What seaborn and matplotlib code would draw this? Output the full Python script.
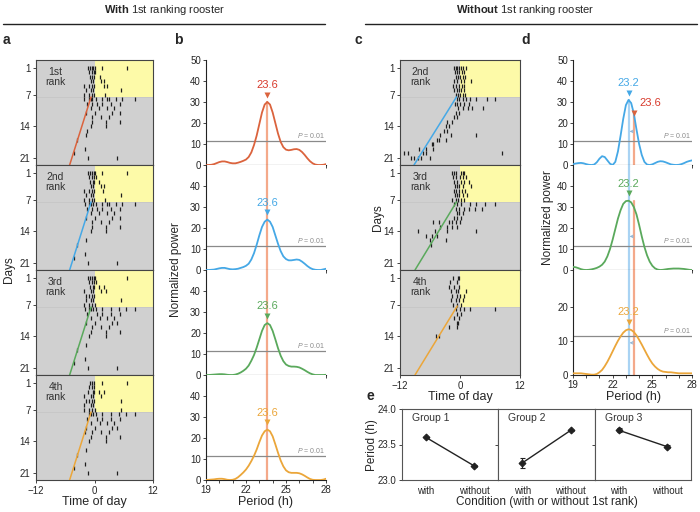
import numpy as np
import pandas as pd
import matplotlib
matplotlib.use("Agg")
import matplotlib.pyplot as plt
import seaborn as sns

sns.set_style("white")
plt.rcParams['font.family'] = ['Liberation Sans', 'DejaVu Sans']
plt.rcParams['mathtext.fontset'] = 'custom'
plt.rcParams['mathtext.it'] = 'Liberation Sans:italic'
plt.rcParams['mathtext.rm'] = 'Liberation Sans'
plt.rcParams['mathtext.bf'] = 'Liberation Sans:bold'

# ---------------- data ----------------
# actogram activity bouts: (day, time of day)
act_a1 = [(1,-1.4),(1,-1.0),(1,-0.6),(1,-0.3),(1,0.1),(1,1.6),(1,6.6),
          (2,-1.2),(2,-0.6),(2,-0.1),(2,0.2),
          (3,-0.9),(3,-0.5),(3,-0.1),(3,1.2),
          (4,-0.8),(4,-0.4),(4,1.4),(4,1.9),
          (5,-2.2),(5,-1.2),(5,-0.6),(5,-0.1),(5,1.9),(5,2.6),
          (6,-1.8),(6,-0.8),(6,-0.3),(6,5.4),
          (7,-2.2),(7,-1.1),(7,-0.5),(7,-0.1),(7,2.2),
          (8,-2.2),(8,-1.2),(8,-0.8),(8,-0.5),(8,0.4),(8,1.6),(8,2.6),(8,2.9),(8,4.5),(8,5.6),(8,8.3),
          (9,-1.5),(9,-0.6),(9,0.5),(9,1.6),(9,3.3),(9,5.3),
          (10,-0.8),(10,0.9),(10,2.6),(10,3.9),
          (11,-1.8),(11,0.2),(11,3.6),(11,5.3),
          (12,-0.5),(12,1.4),(12,2.9),
          (13,-0.6),(13,2.4),(13,5.3),
          (14,-0.8),(14,2.4),
          (15,-1.5),(16,-1.7),(17,-3.5),(19,-2.0),(20,-4.3),(21,-1.4),(21,4.6)]
act_a2 = [(1,-1.4),(1,-1.0),(1,-0.6),(1,-0.2),(1,0.1),(1,1.6),(1,6.6),
          (2,-1.2),(2,-0.6),(2,-0.1),(2,0.3),
          (3,-0.9),(3,-0.4),(3,-0.1),(3,1.0),
          (4,-0.8),(4,-0.3),(4,1.4),(4,1.9),
          (5,-2.2),(5,-1.2),(5,-0.6),(5,-0.1),(5,1.8),
          (6,-1.8),(6,-0.8),(6,-0.3),(6,5.4),
          (7,-2.2),(7,-1.1),(7,-0.5),(7,-0.1),(7,2.2),
          (8,-2.0),(8,-1.2),(8,-0.8),(8,-0.4),(8,0.4),(8,1.6),(8,2.6),(8,3.0),(8,4.5),(8,5.6),(8,8.3),
          (9,-1.5),(9,-0.6),(9,0.6),(9,1.6),(9,3.3),(9,5.3),
          (10,-0.8),(10,0.9),(10,2.6),(10,3.9),
          (11,-1.8),(11,0.2),(11,3.6),(11,5.3),
          (12,-0.5),(12,1.4),(12,2.9),
          (13,-0.6),(13,2.4),(13,5.3),
          (14,-0.8),(14,2.4),
          (16,-1.7),(17,-3.5),(19,-2.0),(20,-4.3),(21,-1.4),(21,4.6)]
act_a3 = [(1,-1.4),(1,-1.0),(1,-0.6),(1,-0.2),(1,0.1),(1,6.6),
          (2,-1.2),(2,-0.6),(2,-0.1),(2,0.3),
          (3,-0.9),(3,-0.4),(3,-0.1),(3,1.0),(3,2.0),
          (4,-2.2),(4,-0.8),(4,-0.3),(4,1.4),(4,2.4),
          (5,-1.8),(5,-1.2),(5,-0.6),(5,-0.1),
          (6,-1.8),(6,-0.8),(6,-0.3),(6,5.4),
          (7,-2.2),(7,-1.1),(7,-0.5),(7,0.1),
          (8,-2.0),(8,-1.2),(8,-0.8),(8,-0.4),(8,0.4),(8,1.6),(8,3.3),(8,5.0),(8,6.4),(8,8.3),
          (9,-1.5),(9,0.6),(9,1.6),(9,3.3),(9,5.3),
          (10,-0.8),(10,1.2),(10,2.6),(10,3.9),
          (11,-1.8),(11,0.2),(11,3.6),(11,4.6),
          (12,-0.5),(12,1.4),(12,2.9),
          (13,-0.8),(13,2.4),(13,5.3),
          (14,-1.2),(14,2.4),
          (16,-1.7),(17,-3.5),(19,-2.0),(20,-4.3),(21,-1.4),(21,4.6)]
act_a4 = [(1,-1.0),(1,-0.6),(1,-0.2),(1,1.6),(1,6.6),
          (2,-1.2),(2,-0.6),(2,-0.1),
          (3,-1.4),(3,-0.4),(3,-0.1),(3,1.0),(3,2.0),
          (4,-2.2),(4,-0.8),(4,-0.3),(4,1.4),
          (5,-1.8),(5,-1.2),(5,-0.6),(5,-0.1),(5,5.4),
          (6,-2.2),(6,-0.8),(6,-0.3),
          (7,-2.2),(7,-1.1),(7,-0.5),(7,0.1),(7,5.4),
          (8,-1.2),(8,-0.8),(8,-0.4),(8,0.4),(8,1.6),(8,3.3),(8,5.0),(8,6.4),(8,8.3),
          (9,-1.5),(9,0.6),(9,1.6),(9,3.3),(9,5.3),
          (10,-0.8),(10,1.2),(10,2.6),(10,3.9),
          (11,-1.8),(11,0.2),(11,3.6),(11,4.6),
          (12,-2.0),(12,-0.5),(12,1.4),(12,2.9),
          (13,-0.8),(13,2.4),(13,5.3),
          (14,-1.2),(14,2.4),
          (16,-1.7),(17,-3.5),(19,-2.0),(20,-4.3),(21,-1.4),(21,4.6)]
act_c1 = [(1,-1.2),(1,-0.9),(1,-0.6),(1,-0.2),(1,0.1),(1,0.5),(1,1.2),
          (2,-1.1),(2,-0.7),(2,-0.2),(2,0.3),(2,0.8),
          (3,-0.9),(3,-0.4),(3,0.0),(3,0.5),(3,1.0),
          (4,-1.2),(4,-0.6),(4,0.1),(4,0.8),(4,2.2),
          (5,-1.4),(5,-0.9),(5,-0.2),(5,0.3),(5,0.7),
          (6,-1.2),(6,-0.7),(6,-0.2),(6,0.1),(6,0.8),
          (7,-0.9),(7,-0.4),(7,0.0),(7,0.5),(7,1.0),
          (8,-0.7),(8,-0.2),(8,0.5),(8,1.2),(8,1.9),(8,3.2),(8,5.3),(8,6.9),
          (9,-1.1),(9,-0.6),(9,0.0),(9,0.8),(9,1.7),
          (10,-0.4),(10,0.5),(10,1.5),(10,2.3),(10,4.6),
          (11,-0.9),(11,-0.2),(12,-1.2),(12,-0.6),(13,-2.6),(13,-1.6),
          (14,-2.8),(14,-2.3),(15,-3.3),(15,-2.6),(16,-4.0),(16,-1.9),(16,3.2),
          (17,-4.6),(17,-4.3),(17,-2.8),(18,-5.7),(18,-5.4),
          (19,-8.2),(19,-6.8),(19,-5.4),
          (20,-11.2),(20,-10.4),(20,-7.4),(20,-6.8),(20,8.4),
          (21,-9.8),(21,-9.2),(21,-8.5),(21,-7.9),(21,-6.1)]
act_c2 = [(1,-1.6),(1,-1.2),(1,-0.9),(1,0.1),(1,0.5),(1,0.8),
          (2,-1.4),(2,-0.9),(2,0.0),(2,0.5),(2,1.2),
          (3,-1.2),(3,-0.7),(3,0.1),(3,0.8),(3,1.7),
          (4,-1.1),(4,-0.6),(4,-0.2),(4,0.5),(4,2.2),
          (5,-1.2),(5,-0.9),(5,-0.2),(5,0.3),(5,1.0),
          (6,-1.1),(6,-0.7),(6,-0.2),(6,0.5),(6,1.4),
          (7,-1.6),(7,-0.9),(7,-0.4),(7,0.1),(7,0.8),
          (8,-1.2),(8,-0.6),(8,0.1),(8,1.9),(8,3.2),(8,5.0),(8,7.0),
          (9,-0.9),(9,-0.2),(9,0.8),(9,1.7),(9,2.9),(9,4.4),
          (10,-0.7),(10,-0.2),(10,0.5),
          (11,-1.2),(11,-0.6),(11,0.1),
          (12,-5.4),(12,-4.3),(12,-2.3),(12,-1.6),(12,-0.9),(12,0.0),
          (13,-4.0),(13,-2.6),(13,-1.6),(13,-0.6),
          (14,-8.5),(14,-5.0),(14,-2.6),(14,3.2),
          (15,-6.8),(15,-5.7),(15,-4.6),(16,-6.1),(16,-2.8),(17,-5.9)]
act_c3 = [(1,-1.4),(1,-0.4),(1,-0.2),
          (2,-2.1),(2,-0.6),
          (3,-2.3),(3,-1.2),(3,-0.2),
          (4,-1.8),(4,-0.9),(4,-0.4),(4,1.2),
          (5,-1.6),(5,-0.7),(5,0.0),(5,0.8),
          (6,-1.8),(6,-0.9),(6,-0.2),(6,0.5),
          (7,-1.4),(7,-0.6),(7,0.1),
          (8,-0.9),(8,0.0),(8,0.8),(8,1.9),(8,7.0),
          (9,-0.7),(9,0.1),(10,-1.2),(10,-0.2),(11,-0.6),(11,-0.4),
          (12,-2.3),(12,-0.6),(14,-4.8),(14,-4.3)]

# free-running regression lines: (day_start, time_start, day_end, time_end)
fit_a = [(7.5, -0.7, 22.6, -5.1)] * 4
fit_c = [(7.5, -0.7, 22.6, -9.2), (7.5, -0.7, 22.6, -9.0), (7.3, -0.55, 22.6, -9.0)]

ranks_a = ["1st\nrank", "2nd\nrank", "3rd\nrank", "4th\nrank"]
ranks_c = ["2nd\nrank", "3rd\nrank", "4th\nrank"]

period = [19.0,19.2,19.4,19.6,19.8,20.0,20.2,20.4,20.6,20.8,21.0,21.2,21.4,21.6,21.8,22.0,
          22.2,22.4,22.6,22.8,23.0,23.2,23.4,23.6,23.8,24.0,24.2,24.4,24.6,24.8,25.0,25.2,
          25.4,25.6,25.8,26.0,26.2,26.4,26.6,26.8,27.0,27.2,27.4,27.6,27.8,28.0]
pow_b1 = [0.0,0.0,0.1,0.4,0.9,1.4,1.7,1.7,1.4,1.0,0.8,0.8,1.1,1.5,2.0,2.6,3.8,6.0,9.5,14.0,
          19.5,25.0,28.8,30.0,28.8,25.0,20.0,15.0,11.0,8.5,7.3,7.0,7.2,7.5,7.6,7.2,6.2,4.8,
          3.2,1.8,0.8,0.2,0.0,0.0,0.1,0.4]
pow_b2 = [0.0,0.0,0.1,0.2,0.5,0.8,1.0,1.0,0.7,0.4,0.3,0.4,0.6,1.0,1.4,2.0,3.0,5.0,8.0,12.0,
          16.5,20.5,23.0,24.0,23.0,20.5,16.5,12.5,9.0,6.5,5.2,4.6,4.6,4.8,5.0,4.8,4.0,3.0,
          1.9,1.0,0.4,0.1,0.0,0.0,0.3,0.6]
pow_b3 = [0.0,0.0,0.1,0.2,0.3,0.4,0.4,0.3,0.1,0.0,0.0,0.2,0.6,1.2,2.0,3.0,4.5,6.8,9.5,13.0,
          17.0,21.0,23.8,24.7,23.8,21.0,17.0,12.8,9.2,6.6,5.0,4.3,4.0,4.0,3.9,3.6,3.0,2.3,
          1.5,0.8,0.3,0.0,0.0,0.0,0.0,0.1]
pow_b4 = [0.0,0.1,0.2,0.3,0.5,0.6,0.6,0.4,0.1,0.0,0.1,0.5,1.3,2.4,3.6,5.0,6.8,9.0,11.5,14.5,
          18.0,21.2,23.2,24.0,23.2,20.8,17.0,13.0,9.3,6.5,4.6,3.7,3.4,3.4,3.4,3.2,2.7,2.0,
          1.2,0.5,0.1,0.0,0.0,0.0,0.2,0.6]
pow_d1 = [0.4,0.7,0.9,1.0,0.8,0.4,0.1,0.0,0.2,1.3,3.0,4.2,3.8,2.2,0.6,0.0,1.5,6.5,14.0,22.0,
          28.5,31.0,29.5,24.5,17.0,10.0,4.8,1.5,0.2,0.0,0.3,0.9,1.5,1.8,1.7,1.3,0.8,0.3,
          0.1,0.0,0.1,0.4,0.9,1.5,1.9,2.2]
pow_d2 = [1.5,1.3,0.9,0.4,0.1,0.0,0.1,0.3,0.6,1.0,1.6,2.5,4.0,6.5,10.0,14.5,19.5,24.5,28.5,
          31.5,32.8,33.0,32.2,30.0,26.5,21.5,16.0,11.0,7.0,4.0,2.0,0.8,0.2,0.0,0.1,0.3,0.5,
          0.6,0.7,0.7,0.7,0.6,0.5,0.3,0.1,0.0]
pow_d3 = [0.5,0.5,0.5,0.5,0.4,0.3,0.2,0.1,0.1,0.3,0.8,1.5,2.6,3.9,5.4,7.0,8.6,10.1,11.4,12.5,
          13.2,13.5,13.3,12.7,11.7,10.4,9.0,7.5,6.0,4.6,3.4,2.5,1.8,1.3,1.0,0.9,0.8,0.8,0.7,
          0.6,0.5,0.5,0.5,0.5,0.5,0.5]
p_threshold = 11.5
peak_with = 23.6
peak_without = 23.2

conditions = ["with", "without"]
groups = ["Group 1", "Group 2", "Group 3"]
group_means = [[23.60, 23.20], [23.24, 23.70], [23.70, 23.47]]
group_errs = [[0.01, 0.01], [0.07, 0.01], [0.03, 0.02]]

# ---------------- styling ----------------
RED, BLUE, GREEN, ORANGE = "#db633d", "#45a8e6", "#5aa95c", "#eba63a"
RED_TXT = "#d83a2c"
SALMON, LBLUE = "#f4a98a", "#a9d3f3"
GRAYBG, YELLOW = "#d0d0d0", "#fdfaa8"
colors_a = [RED, BLUE, GREEN, ORANGE]
colors_c = [BLUE, GREEN, ORANGE]

W, H = 700, 512
fig = plt.figure(figsize=(W/100, H/100), dpi=100)

def add_ax(x0, y0, x1, y1):
    return fig.add_axes([x0/W, 1 - y1/H, (x1-x0)/W, (y1-y0)/H])

TICKFS = 7
rows = [(60,165),(165,270),(270,375),(375,480)]

def actogram(ax, acts, fit, color, label, bottom):
    ax.set_facecolor(GRAYBG)
    ax.set_xlim(-12, 12)
    ax.set_ylim(22.6, -0.7)
    ax.fill_between([0, 12], -0.7, 7.5, color=YELLOW, lw=0, zorder=0)
    ax.axhline(7.5, color="#c4c4c4", lw=0.5, zorder=0.5)
    days = np.array([a[0] for a in acts]); times = np.array([a[1] for a in acts])
    ax.vlines(times, days-0.42, days+0.42, color="#1e1e1e", lw=0.9, zorder=2)
    ax.plot([fit[1], fit[3]], [fit[0], fit[2]], color=color, lw=1.1, zorder=3)
    ax.text(-8.0, 3.0, label, ha="center", va="center", fontsize=7.5, color="#333333",
            linespacing=1.0)
    ax.set_yticks([1, 7, 14, 21])
    ax.tick_params(axis="y", labelsize=TICKFS, length=2.5, width=0.6, pad=1.5, left=True)
    if bottom:
        ax.set_xticks([-12, 0, 12])
        ax.tick_params(axis="x", labelsize=TICKFS, length=2.5, width=0.6, pad=1.5, bottom=True)
    else:
        ax.set_xticks([])
    for s in ax.spines.values():
        s.set_color("#444444"); s.set_linewidth(0.8)

def periodogram(ax, pw, color, top, bottom, ymax=50, yt=None, peak=23.6, lbl="23.6"):
    df = pd.DataFrame({"period": period, "power": pw})
    sns.lineplot(data=df, x="period", y="power", ax=ax, color=color, lw=1.3, zorder=4)
    ax.set_xlim(19, 28); ax.set_ylim(0, ymax)
    ax.axhline(p_threshold, color="#8a8a8a", lw=0.9, zorder=2)
    ax.text(27.95, p_threshold + ymax*0.012, "$P$ = 0.01", ha="right", va="bottom",
            fontsize=5, color="#8a8a8a")
    pk = max(pw)
    ax.plot([peak], [pk + ymax*0.07], marker="v", ms=5, color=color, zorder=5, mec="none")
    ax.text(peak, pk + ymax*0.16, lbl, ha="center", va="center", fontsize=8,
            color=(RED_TXT if color == RED else color))
    ax.set_yticks(yt if yt is not None else ([0,10,20,30,40,50] if top else [0,10,20,30,40]))
    ax.set_xticks(range(19, 29))
    if bottom:
        ax.set_xticklabels(["19","","","22","","","25","","","28"])
    else:
        ax.set_xticklabels([])
    ax.tick_params(axis="both", labelsize=TICKFS, length=2.2, width=0.6, pad=1.5,
                   left=True, bottom=True)
    ax.set_xlabel(""); ax.set_ylabel("")
    for s in ["top", "right"]:
        ax.spines[s].set_visible(False)
    for s in ["left", "bottom"]:
        ax.spines[s].set_color("#222222"); ax.spines[s].set_linewidth(0.8)

# ---- panel a ----
acts_a = [act_a1, act_a2, act_a3, act_a4]
for i, (y0, y1) in enumerate(rows):
    ax = add_ax(36, y0, 153, y1)
    actogram(ax, acts_a[i], fit_a[i], colors_a[i], ranks_a[i], i == 3)

# ---- panel b ----
pows_b = [pow_b1, pow_b2, pow_b3, pow_b4]
for i, (y0, y1) in enumerate(rows):
    ax = add_ax(206, y0, 326, y1)
    periodogram(ax, pows_b[i], colors_a[i], i == 0, i == 3)
    if i == 0:
        ax.axvline(peak_with, ymin=0, ymax=30/50, color=SALMON, lw=1.6, zorder=1)
    else:
        ax.axvline(peak_with, color=SALMON, lw=1.6, zorder=1)

# ---- panel c ----
acts_c = [act_c1, act_c2, act_c3]
for i, (y0, y1) in enumerate(rows[:3]):
    ax = add_ax(400, y0, 520, y1)
    actogram(ax, acts_c[i], fit_c[i], colors_c[i], ranks_c[i], i == 2)

# ---- panel d ----
pows_d = [pow_d1, pow_d2, pow_d3]
for i, (y0, y1) in enumerate(rows[:3]):
    ax = add_ax(573, y0, 692, y1)
    if i == 2:
        periodogram(ax, pows_d[i], colors_c[i], False, True, ymax=31, yt=[0,10,20],
                    peak=peak_without, lbl="23.2")
        ax.axvline(peak_without, color=LBLUE, lw=1.6, zorder=1)
        ax.axvline(peak_with, color=SALMON, lw=1.6, zorder=1)
        ay = 9.5
    else:
        periodogram(ax, pows_d[i], colors_c[i], i == 0, False, peak=peak_without, lbl="23.2")
        if i == 0:
            ax.axvline(peak_without, ymax=31/50, color=LBLUE, lw=1.6, zorder=1)
            ax.axvline(peak_with, ymax=25/50, color=SALMON, lw=1.6, zorder=1)
            ax.plot([peak_with], [25.0], marker="v", ms=5, color=RED, mec="none", zorder=5)
            ax.text(24.0, 29.5, "23.6", ha="left", va="center", fontsize=8, color=RED_TXT)
        else:
            ax.axvline(peak_without, color=LBLUE, lw=1.6, zorder=1)
            ax.axvline(peak_with, ymax=33/50, color=SALMON, lw=1.6, zorder=1)
        ay = 16
    ax.annotate("", xy=(23.28, ay), xytext=(23.55, ay),
                arrowprops=dict(arrowstyle="->", color="#8db4d6", lw=0.6,
                                shrinkA=0, shrinkB=0, mutation_scale=5), zorder=6)

# ---- panel e ----
ex = [402, 498, 595, 691]
for g in range(3):
    ax = add_ax(ex[g], 409, ex[g+1], 480)
    df = pd.DataFrame({"x": [0, 1], "y": group_means[g]})
    sns.lineplot(data=df, x="x", y="y", ax=ax, color="#222222", lw=1.0, marker="D",
                 markersize=3.5, mec="#222222")
    ax.errorbar([0, 1], group_means[g], yerr=group_errs[g], fmt="none",
                ecolor="#222222", elinewidth=0.8, capsize=1.8, capthick=0.8)
    ax.set_xlim(-0.5, 1.5); ax.set_ylim(23.0, 24.0)
    ax.set_xticks([0, 1]); ax.set_xticklabels(conditions)
    ax.set_xlabel(""); ax.set_ylabel("")
    if g == 0:
        ax.set_yticks([23.0, 23.5, 24.0]); ax.set_yticklabels(["23.0", "23.5", "24.0"])
    else:
        ax.set_yticks([23.5]); ax.set_yticklabels([])
    ax.tick_params(axis="both", labelsize=TICKFS, length=2.2, width=0.6, pad=2,
                   left=True, bottom=False)
    ax.text(0.1, 0.87, groups[g], transform=ax.transAxes, fontsize=7.5, color="#333333",
            va="center")
    for s in ax.spines.values():
        s.set_color("#555555"); s.set_linewidth(0.8)

# ---- figure texts ----
fig.text(165/W, 1-10/H, r"$\mathbf{With}$ 1st ranking rooster", ha="center", va="center", fontsize=8)
fig.text(525/W, 1-10/H, r"$\mathbf{Without}$ 1st ranking rooster", ha="center", va="center", fontsize=8)
fig.add_artist(plt.Line2D([3/W, 325/W], [1-24/H, 1-24/H], color="#222222", lw=1.0))
fig.add_artist(plt.Line2D([365/W, 697/W], [1-24/H, 1-24/H], color="#222222", lw=1.0))
for letter, (px, py) in {"a": (6, 40), "b": (178, 40), "c": (358, 40),
                         "d": (526, 40), "e": (370, 396)}.items():
    fig.text(px/W, 1-py/H, letter, ha="center", va="center", fontsize=10, fontweight="bold")
fig.text(9/W, 1-270/H, "Days", rotation=90, ha="center", va="center", fontsize=8.5)
fig.text(176/W, 1-270/H, "Normalized power", rotation=90, ha="center", va="center", fontsize=8.5)
fig.text(378/W, 1-218/H, "Days", rotation=90, ha="center", va="center", fontsize=8.5)
fig.text(548/W, 1-218/H, "Normalized power", rotation=90, ha="center", va="center", fontsize=8.5)
fig.text(94/W, 1-502/H, "Time of day", ha="center", va="center", fontsize=9)
fig.text(266/W, 1-502/H, "Period (h)", ha="center", va="center", fontsize=9)
fig.text(460/W, 1-397/H, "Time of day", ha="center", va="center", fontsize=9)
fig.text(633/W, 1-397/H, "Period (h)", ha="center", va="center", fontsize=9)
fig.text(372/W, 1-445/H, "Period (h)", rotation=90, ha="center", va="center", fontsize=8.5)
fig.text(547/W, 1-502/H, "Condition (with or without 1st rank)", ha="center", va="center", fontsize=8.5)

fig.savefig("out.png", dpi=100, facecolor="white")
